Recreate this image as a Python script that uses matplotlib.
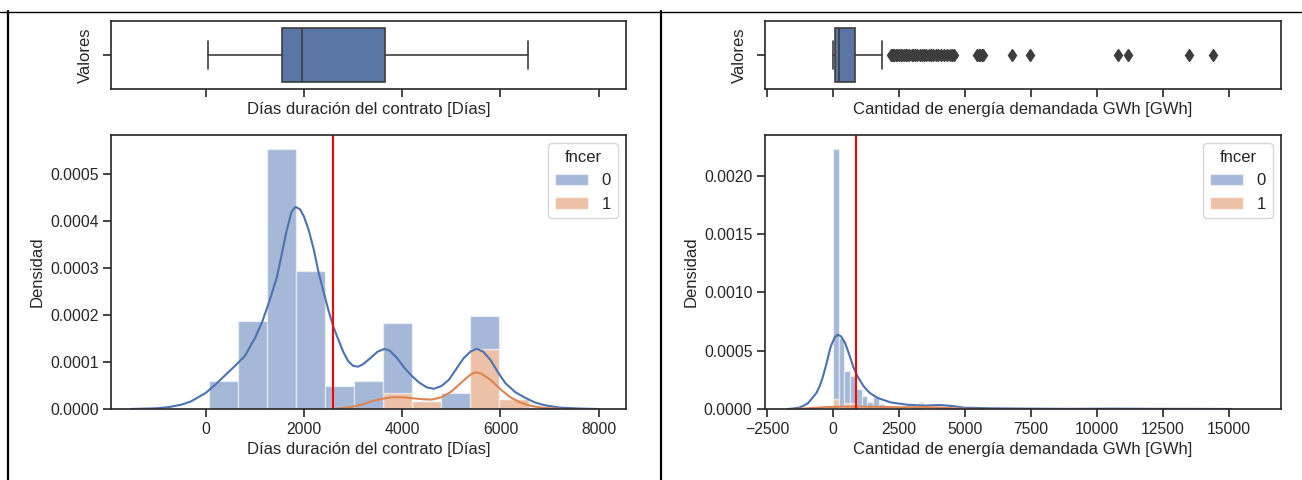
import matplotlib
matplotlib.use("Agg")
import matplotlib.pyplot as plt
from matplotlib.patches import Patch
from matplotlib.lines import Line2D
import numpy as np
import seaborn as sns

# ---------------- datos ----------------
# Panel izquierdo: dias de duracion del contrato
dias_bin_start = 70
dias_bin_width = 591
dias_total = [0.000059, 0.000187, 0.000553, 0.000294, 0.000049, 0.000060,
              0.000183, 0.000018, 0.000034, 0.000197, 0.000021]
dias_fncer1 = [0, 0, 0, 0, 0, 0, 0.000034, 0.000018, 0, 0.000128, 0.000021]

dias_kde0_x = [-1520, -1000, -750, -500, -300, 0, 200, 400, 600, 800, 1000, 1150, 1300,
               1450, 1550, 1650, 1750, 1830, 1920, 2000, 2100, 2200, 2300, 2400, 2500,
               2600, 2700, 2800, 2900, 3000, 3100, 3200, 3350, 3500, 3640, 3750, 3900,
               4050, 4200, 4350, 4500, 4650, 4800, 4950, 5100, 5250, 5400, 5520, 5650,
               5800, 5950, 6100, 6300, 6500, 6700, 6900, 7200, 7600, 8000]
dias_kde0_y = [0, 0.0000015, 0.000004, 0.000009, 0.000016, 0.000034, 0.000052, 0.000072,
               0.000092, 0.000113, 0.00015, 0.000185, 0.00023, 0.00028, 0.00033, 0.00038,
               0.00042, 0.00043, 0.000425, 0.00041, 0.00038, 0.00034, 0.00029, 0.00025,
               0.00021, 0.000175, 0.000148, 0.000122, 0.000102, 0.000092, 0.00009,
               0.000095, 0.000108, 0.000122, 0.000128, 0.000124, 0.000108, 0.000087,
               0.00007, 0.000056, 0.000046, 0.000043, 0.000049, 0.000062, 0.000085,
               0.000108, 0.000123, 0.000128, 0.000122, 0.000104, 0.000078, 0.000055,
               0.000036, 0.000024, 0.000014, 0.000008, 0.000003, 0.000001, 0]
dias_kde1_x = [2600, 2800, 3000, 3200, 3400, 3600, 3800, 4000, 4200, 4400, 4600, 4800,
               5000, 5200, 5400, 5500, 5600, 5800, 6000, 6200, 6400, 6600, 6900, 7300]
dias_kde1_y = [0, 0.000002, 0.000005, 0.00001, 0.000017, 0.000022, 0.000025, 0.000025,
               0.000023, 0.000021, 0.00002, 0.000025, 0.000037, 0.000056, 0.000074,
               0.000078, 0.000076, 0.000062, 0.000042, 0.000025, 0.000014, 0.000007,
               0.000002, 0]
dias_media = 2594
dias_box = dict(whislo=43, q1=1545, med=1966, q3=3648, whishi=6567, fliers=[])

# Panel derecho: energia demandada
ener_bin_start = 0
ener_bin_width = 216
ener_total = [0.00223, 0.00061, 0.000327, 0.000287, 0.000169, 0.000112, 0.000063,
              0.000106, 0.000043, 0.00003, 0.00002, 0.000015, 0.00001, 0.00001,
              0.00001, 0.000057, 0.00001, 0.00001, 0.00002, 0.00001, 0.000005, 0.000005]
ener_fncer1 = [0.00009, 0.00002, 0.00005, 0.00005, 0.00002, 0.00001, 0.00001, 0.00002,
               0.00001, 0.00001, 0.00001, 0.000005, 0.000005, 0.000005, 0.000005,
               0.000054, 0.000005, 0.000005, 0.00001, 0.000005, 0, 0]
ener_far_x = [5400, 5616, 6696, 7344, 10800, 11016, 13392, 14256]
ener_far_y = [0.00001, 0.00001, 0.000005, 0.000005, 0.000005, 0.000005, 0.000005, 0.000005]

ener_kde0_x = [-1723, -1500, -1255, -1100, -943, -800, -632, -500, -398, -242, -86, 70,
               179, 304, 460, 616, 772, 928, 1162, 1396, 1707, 2175, 2799, 3423, 4047,
               4515, 4982, 5918, 7478, 9037, 10596, 12156, 13715, 15118]
ener_kde0_y = [0, 0.000004, 0.000014, 0.00003, 0.000051, 0.00009, 0.000137, 0.0002,
               0.000266, 0.000394, 0.000537, 0.000617, 0.000637, 0.000623, 0.000566,
               0.000466, 0.00036, 0.00028, 0.000194, 0.000137, 0.000094, 0.000057,
               0.000037, 0.000029, 0.000034, 0.000026, 0.000011, 0.000006, 0.000003,
               0.0000015, 0.000003, 0.0000015, 0.000001, 0]
ener_kde1_x = [-1500, -1000, -500, 0, 500, 1000, 1500, 2000, 2500, 3000, 3500, 4000,
               4500, 5000, 5500]
ener_kde1_y = [0, 0.000005, 0.000013, 0.000018, 0.00002, 0.00002, 0.000019, 0.000017,
               0.000015, 0.000015, 0.000016, 0.000013, 0.000007, 0.000002, 0]
ener_media = 881
ener_box = dict(whislo=5, q1=78, med=242, q3=818, whishi=1863,
                fliers=[2180, 2230, 2280, 2330, 2380, 2440, 2500, 2560, 2620, 2690, 2750,
                        2820, 2900, 2980, 3050, 3120, 3200, 3300, 3380, 3450, 3520, 3650,
                        3720, 3800, 3900, 4000, 4100, 4200, 4320, 4450, 4520, 4590,
                        5450, 5520, 5580, 5650, 5700, 6806, 7477, 10800, 11190, 13512,
                        14420])

# ---------------- estilo ----------------
sns.set_style("ticks")
plt.rcParams['font.family'] = ['Liberation Sans', 'DejaVu Sans']
plt.rcParams['axes.linewidth'] = 1.2
plt.rcParams['xtick.major.width'] = 1.2
plt.rcParams['ytick.major.width'] = 1.2
plt.rcParams['xtick.major.size'] = 5.5
plt.rcParams['ytick.major.size'] = 5.5

azul = '#4C72B0'
naranja = '#DD8452'
azul_box = '#5875A4'
gris = '#3D3D3D'
FS_TICK = 11.3
FS_LAB = 12

W, H = 1302, 480
fig = plt.figure(figsize=(W / 100, H / 100), dpi=100)


def pos(x0, y0, x1, y1):
    return [x0 / W, 1 - y1 / H, (x1 - x0) / W, (y1 - y0) / H]


def caja(ax, stats, xlabel):
    stats = dict(stats)
    stats['label'] = ''
    ax.bxp([stats], positions=[0], widths=0.8, vert=False, patch_artist=True,
           boxprops=dict(facecolor=azul_box, edgecolor=gris, linewidth=1.2),
           medianprops=dict(color=gris, linewidth=1.2),
           whiskerprops=dict(color=gris, linewidth=1.2),
           capprops=dict(color=gris, linewidth=1.2),
           flierprops=dict(marker='d', markerfacecolor=gris, markeredgecolor=gris,
                           markersize=6))
    ax.set_ylim(0.5, -0.5)
    ax.set_yticks([0])
    ax.set_yticklabels([''])
    ax.set_ylabel('Valores', fontsize=FS_LAB)
    ax.set_xlabel(xlabel, fontsize=FS_LAB)
    ax.tick_params(axis='x', labelbottom=False)


def histo(ax, start, width, total, f1, k0x, k0y, k1x, k1y, media, xlabel):
    total = np.array(total)
    f1 = np.array(f1)
    lefts = start + width * np.arange(len(total))
    ax.bar(lefts, f1, width=width, align='edge', color=naranja, alpha=0.5,
           edgecolor='white', linewidth=1)
    ax.bar(lefts, total - f1, bottom=f1, width=width, align='edge', color=azul,
           alpha=0.5, edgecolor='white', linewidth=1)
    ax.plot(k0x, k0y, color=azul, lw=1.5)
    ax.plot(k1x, k1y, color=naranja, lw=1.5)
    ax.axvline(media, color='red', lw=1.5)
    ax.set_xlabel(xlabel, fontsize=FS_LAB)
    ax.set_ylabel('Densidad', fontsize=FS_LAB)
    ax.tick_params(labelsize=FS_TICK)
    handles = [Patch(facecolor=azul, alpha=0.5, edgecolor='white'),
               Patch(facecolor=naranja, alpha=0.5, edgecolor='white')]
    ax.legend(handles, ['0', '1'], title='fncer', loc='upper right',
              fontsize=FS_LAB, title_fontsize=FS_LAB)


# ---------------- panel izquierdo ----------------
lab_dias = 'Días duración del contrato [Días]'
ax_b1 = fig.add_axes(pos(111, 21, 626, 89))
ax_h1 = fig.add_axes(pos(111, 135, 626, 409), sharex=ax_b1)
caja(ax_b1, dias_box, lab_dias)
histo(ax_h1, dias_bin_start, dias_bin_width, dias_total, dias_fncer1,
      dias_kde0_x, dias_kde0_y, dias_kde1_x, dias_kde1_y, dias_media, lab_dias)
ax_h1.set_xlim(-1925, 8555)
ax_h1.set_ylim(0, 0.000583)
ax_h1.set_xticks([0, 2000, 4000, 6000, 8000])
ax_h1.set_yticks([0, 0.0001, 0.0002, 0.0003, 0.0004, 0.0005])
ax_h1.set_yticklabels(['0.0000', '0.0001', '0.0002', '0.0003', '0.0004', '0.0005'])

# ---------------- panel derecho ----------------
lab_ener = 'Cantidad de energía demandada GWh [GWh]'
ax_b2 = fig.add_axes(pos(765, 21, 1281, 89))
ax_h2 = fig.add_axes(pos(765, 135, 1281, 409), sharex=ax_b2)
caja(ax_b2, ener_box, lab_ener)
histo(ax_h2, ener_bin_start, ener_bin_width, ener_total, ener_fncer1,
      ener_kde0_x, ener_kde0_y, ener_kde1_x, ener_kde1_y, ener_media, lab_ener)
ax_h2.bar(ener_far_x, ener_far_y, width=ener_bin_width, align='edge', color=azul,
          alpha=0.5, edgecolor='white', linewidth=1)
ax_h2.set_xlim(-2580, 16990)
ax_h2.set_ylim(0, 0.00235)
ax_h2.set_xticks([-2500, 0, 2500, 5000, 7500, 10000, 12500, 15000])
ax_h2.set_xticklabels(['\u22122500', '0', '2500', '5000', '7500', '10000', '12500', '15000'])
ax_h2.set_yticks([0, 0.0005, 0.001, 0.0015, 0.002])
ax_h2.set_yticklabels(['0.0000', '0.0005', '0.0010', '0.0015', '0.0020'])

# ---------------- bordes de la tabla ----------------
fig.add_artist(Line2D([0, 1], [1 - 11.5 / H, 1 - 11.5 / H], color='black', lw=1))
fig.add_artist(Line2D([7.5 / W, 7.5 / W], [0, 1 - 11 / H], color='black', lw=1.6))
fig.add_artist(Line2D([661 / W, 661 / W], [0, 1 - 11 / H], color='black', lw=1.6))

fig.savefig('out.png', dpi=100)
